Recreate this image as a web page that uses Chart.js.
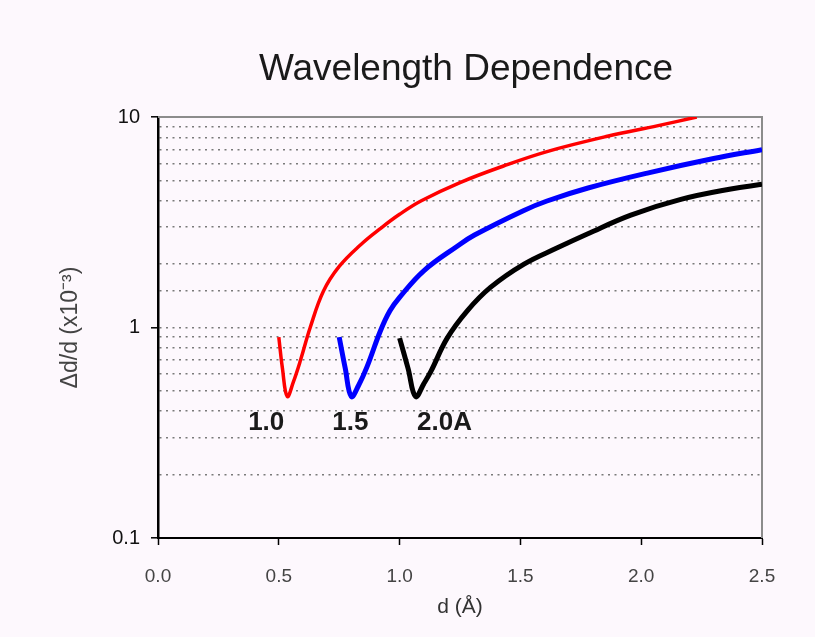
<!DOCTYPE html>
<html>
<head>
<meta charset="utf-8">
<title>Wavelength Dependence</title>
<script src="https://cdn.jsdelivr.net/npm/chart.js@4.4.0/dist/chart.umd.min.js"></script>
<style>
    body { margin: 0; background: #fdf8fd; }
    canvas { display: block; }
</style>
</head>
<body>
<canvas id="graphique" width="815" height="637"></canvas>
<script>
// Valeurs : d (Å) et Δd/d (x10^-3)
const dRouge = [0.50, 0.515, 0.535, 0.56, 0.59, 0.63, 0.685, 0.75, 0.84, 0.92, 1.0, 1.09, 1.25, 1.43, 1.61, 1.86, 2.07, 2.23];
const vRouge = [0.90, 0.64, 0.47, 0.55, 0.70, 1.0, 1.49, 1.95, 2.48, 2.95, 3.45, 4.0, 4.88, 5.85, 6.85, 8.1, 9.1, 10.0];

const dBleu = [0.75, 0.775, 0.80, 0.83, 0.865, 0.92, 0.96, 1.0, 1.10, 1.24, 1.31, 1.51, 1.61, 1.78, 2.03, 2.30, 2.50];
const vBleu = [0.90, 0.64, 0.47, 0.53, 0.65, 0.96, 1.2, 1.39, 1.86, 2.44, 2.75, 3.58, 3.99, 4.6, 5.43, 6.35, 7.0];

const dNoir = [1.0, 1.035, 1.066, 1.10, 1.13, 1.197, 1.28, 1.376, 1.515, 1.653, 1.777, 1.957, 2.164, 2.371, 2.50];
const vNoir = [0.89, 0.64, 0.47, 0.54, 0.62, 0.89, 1.2, 1.55, 2.0, 2.39, 2.78, 3.42, 4.06, 4.55, 4.79];

// Etiquettes des longueurs d'onde (placées en coordonnées des données)
const etiquettes = ['1.0', '1.5', '2.0A'];
const etiquettesD = [0.448, 0.796, 1.186];
const etiquettesV = [0.354, 0.354, 0.354];

const titre = 'Wavelength Dependence';
const titreX = 'd (Å)';
const titreY = 'Δd/d (x10⁻³)';

const POLICE = "'Liberation Sans', Arial, sans-serif";

function points(xs, ys) {
    return xs.map((x, i) => ({ x: x, y: ys[i] }));
}

function estPuissanceDix(v) {
    const l = Math.log10(v);
    return Math.abs(l - Math.round(l)) < 1e-6;
}

// Fond, cadre gris, titre et étiquettes
const decor = {
    id: 'decor',
    beforeDraw(chart) {
        const ctx = chart.ctx;
        ctx.save();
        ctx.fillStyle = '#fdf8fd';
        ctx.fillRect(0, 0, chart.width, chart.height);
        ctx.restore();
    },
    beforeDatasetsDraw(chart) {
        const ctx = chart.ctx;
        const a = chart.chartArea;
        ctx.save();
        ctx.strokeStyle = '#8c8c8c';
        ctx.lineWidth = 2;
        ctx.beginPath();
        ctx.moveTo(a.left, a.top);
        ctx.lineTo(a.right, a.top);
        ctx.lineTo(a.right, a.bottom);
        ctx.stroke();
        ctx.restore();
    },
    afterDatasetsDraw(chart) {
        const ctx = chart.ctx;
        const x = chart.scales.x;
        const y = chart.scales.y;
        ctx.save();
        ctx.fillStyle = '#1a1a1a';
        ctx.font = 'bold 26px ' + POLICE;
        ctx.textAlign = 'center';
        ctx.textBaseline = 'middle';
        etiquettes.forEach((t, i) => {
            ctx.fillText(t, x.getPixelForValue(etiquettesD[i]), y.getPixelForValue(etiquettesV[i]));
        });
        ctx.restore();
    },
    afterDraw(chart) {
        const ctx = chart.ctx;
        ctx.save();
        ctx.fillStyle = '#1a1a1a';
        ctx.font = '37px ' + POLICE;
        ctx.textAlign = 'center';
        ctx.textBaseline = 'alphabetic';
        ctx.fillText(titre, 466, 80);
        ctx.restore();
    }
};

function serie(xs, ys, couleur, epaisseur) {
    return {
        data: points(xs, ys),
        borderColor: couleur,
        backgroundColor: couleur,
        borderWidth: epaisseur,
        pointRadius: 0,
        showLine: true,
        tension: 0.4,
        fill: false
    };
}

const ctx = document.getElementById('graphique').getContext('2d');
new Chart(ctx, {
    type: 'scatter',
    data: {
        datasets: [
            serie(dRouge, vRouge, '#ff0000', 3.5),
            serie(dBleu, vBleu, '#0000ff', 5),
            serie(dNoir, vNoir, '#000000', 5)
        ]
    },
    options: {
        responsive: false,
        animation: false,
        layout: { padding: { top: 117, right: 53, left: 0, bottom: 0 } },
        plugins: {
            legend: { display: false },
            tooltip: { enabled: false },
            title: { display: false }
        },
        scales: {
            x: {
                type: 'linear',
                min: 0,
                max: 2.5,
                afterFit: s => { s.height = 99; },
                ticks: {
                    stepSize: 0.5,
                    padding: 20,
                    color: '#444',
                    font: { family: POLICE, size: 19 },
                    callback: v => v.toFixed(1)
                },
                grid: {
                    drawOnChartArea: false,
                    drawTicks: true,
                    tickLength: 7,
                    tickColor: '#000',
                    tickWidth: 1.5
                },
                border: { color: '#000', width: 2 },
                title: {
                    display: true,
                    text: titreX,
                    color: '#333',
                    font: { family: POLICE, size: 21 },
                    padding: { top: 0, bottom: 17 }
                }
            },
            y: {
                type: 'logarithmic',
                min: 0.1,
                max: 10,
                afterFit: s => { s.width = 158; },
                ticks: {
                    autoSkip: false,
                    padding: 11,
                    color: '#111',
                    font: { family: POLICE, size: 20 },
                    callback: v => estPuissanceDix(v) ? String(Number(v.toPrecision(3))) : ''
                },
                grid: {
                    color: c => (c.tick && (estPuissanceDix(c.tick.value) && c.tick.value !== 1)) ? 'rgba(0,0,0,0)' : '#7a7a7a',
                    lineWidth: 1.6,
                    drawTicks: true,
                    tickLength: 7,
                    tickWidth: 1.5,
                    tickColor: c => (c.tick && estPuissanceDix(c.tick.value)) ? '#000' : 'rgba(0,0,0,0)'
                },
                border: { color: '#000', width: 2.5, dash: [2, 4.5] },
                title: {
                    display: true,
                    text: titreY,
                    color: '#444',
                    font: { family: POLICE, size: 23 },
                    padding: { top: 57, bottom: 0 }
                }
            }
        }
    },
    plugins: [decor]
});
</script>
</body>
</html>
